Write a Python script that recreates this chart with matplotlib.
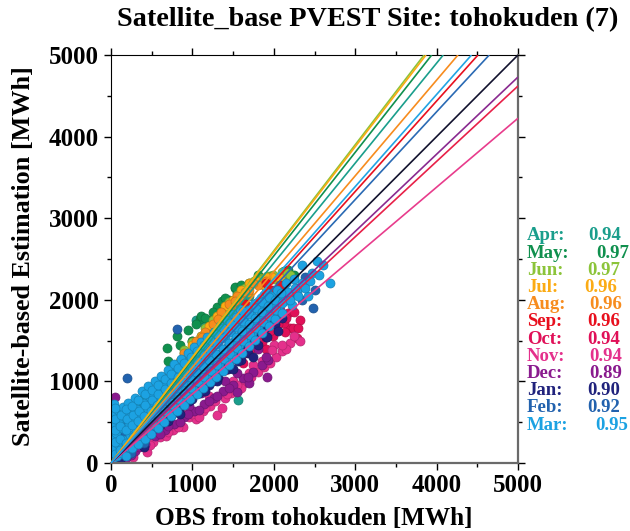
import matplotlib
matplotlib.use('Agg')
import matplotlib.pyplot as plt
from matplotlib.ticker import MultipleLocator
from matplotlib.colors import to_rgb

# ---------------- data ----------------
months = ['Apr', 'May', 'Jun', 'Jul', 'Aug', 'Sep', 'Oct', 'Nov', 'Dec', 'Jan', 'Feb', 'Mar']
corr = ['0.94', '0.97', '0.97', '0.96', '0.96', '0.96', '0.94', '0.94', '0.89', '0.90', '0.92', '0.95']
slopes = [1.225, 1.269, 1.300, 1.292, 1.173, 1.109, 0.924, 0.845, 0.946, 1.000, 1.076, 1.129]
colors = ['#1a9e8c', '#10904e', '#8cc43a', '#fbab14', '#f78c1e', '#e8101e', '#e01058',
          '#e4308c', '#8a1a8e', '#20227c', '#2262ae', '#1ca2e2']
line_colors = ['#1a9e8c', '#10904e', '#8cc43a', '#fbab14', '#f78c1e', '#e8101e', '#e82048',
               '#e83c8c', '#8a2a90', '#12122e', '#2a6ab4', '#22a4e4']

apr_x = [200, 300, 400, 600, 800, 1048, 1000, 1200, 1400, 1564, 1700, 1900, 2100, 900, 1300, 1600, 500, 700, 1100,
         1150, 1350, 750, 450]
apr_y = [450, 560, 650, 900, 1150, 1748, 1500, 1600, 1800, 774, 2050, 2150, 2250, 1300, 1850, 2000, 750, 1060, 1560,
         1700, 1900, 1150, 800]

may_x = [150, 350, 500, 684, 815, 950, 1093, 1110, 1306, 1360, 1523, 1544, 1519, 1700, 1800, 2000, 2130, 2250,
         600, 750, 900, 1000, 1200, 1450, 1650, 400, 1250, 1900, 700, 850, 1050, 1150, 1400, 1600, 1950, 2180]
may_y = [480, 700, 860, 1409, 1560, 1634, 1765, 1806, 1913, 1982, 2146, 2084, 2158, 2200, 2300, 2280, 2350, 2300,
         1000, 1200, 1350, 1500, 1750, 2000, 2150, 800, 1850, 2250, 1250, 1450, 1700, 1780, 2020, 2180, 2290, 2360]

jun_x = [400, 600, 800, 950, 1100, 1200, 1300, 1400, 1500, 1600, 1700, 1830, 1913, 1994, 2097, 2158, 1050, 700,
         1350, 1550, 500, 1760, 2050, 1150, 1250, 1450, 1650, 1850, 2000, 2200, 900, 1000]
jun_y = [620, 850, 1110, 1300, 1500, 1640, 1780, 1890, 1990, 2090, 2170, 2269, 2289, 2310, 2338, 2330, 1450, 1000,
         1820, 2060, 760, 2230, 2260, 1650, 1750, 1970, 2150, 2250, 2250, 2300, 1380, 1480]

jul_x = [300, 450, 560, 660, 780, 880, 980, 1080, 1180, 1280, 1380, 1480, 1580, 1680, 1780, 1880, 1980, 2080,
         1130, 930, 720, 1230, 1430, 1330, 1030, 1000, 1100, 1200, 1300, 1400, 1500, 1600, 850, 750, 1700, 1900]
jul_y = [500, 660, 790, 900, 1070, 1190, 1330, 1440, 1540, 1680, 1790, 1880, 2030, 2090, 2230, 2180, 2280, 2270,
         1500, 1290, 960, 1640, 1840, 1600, 1300, 1450, 1560, 1680, 1800, 1920, 2000, 2120, 1250, 1100, 2200, 2280]

aug_x = [200, 330, 480, 600, 700, 760, 860, 920, 1010, 1060, 1160, 1210, 1300, 1360, 1450, 1510, 1600, 1700,
         1800, 1900, 1260, 960, 650, 1410, 1560, 1100, 820, 1050, 1150, 1250, 1350, 1450, 1550, 1650, 1750, 900,
         800, 700, 1120, 1320, 1520]
aug_y = [350, 470, 640, 790, 900, 1040, 1110, 1220, 1290, 1400, 1460, 1580, 1640, 1760, 1830, 1920, 1980, 2120,
         2180, 2230, 1540, 1240, 880, 1690, 1880, 1380, 1000, 1500, 1600, 1700, 1850, 1950, 2050, 2100, 2200, 1350,
         1200, 1050, 1540, 1760, 1980]

sep_x = [300, 420, 550, 680, 807, 850, 980, 1080, 1180, 1290, 1380, 1480, 1580, 1680, 1780, 1880, 1980, 2080,
         900, 1150, 760, 1400, 1650, 1900]
sep_y = [350, 520, 620, 780, 1142, 1000, 1120, 1300, 1380, 1520, 1560, 1700, 1780, 1880, 1960, 2060, 2120, 2180,
         1180, 1260, 920, 1700, 1950, 2200]

oct_x = [220, 380, 560, 740, 920, 1080, 1240, 1400, 1560, 1720, 1860, 1990, 2076, 2076, 2220, 2322, 2199, 2281,
         2240, 2179, 2120, 1960, 1820, 1680, 1520, 1350, 1180, 1000, 820, 650, 460, 2020, 2140, 1900, 1620,
         300, 600, 900, 1150, 1300, 1450, 1650, 1800, 1950, 2050, 2150, 2300, 2250]
oct_y = [160, 280, 440, 590, 730, 880, 1010, 1140, 1280, 1400, 1480, 1552, 1818, 1880, 1859, 1757, 1654, 1531,
         1654, 1839, 1720, 1660, 1560, 1480, 1340, 1200, 1040, 880, 700, 560, 400, 1760, 1600, 1400, 1220,
         220, 500, 760, 960, 1100, 1200, 1350, 1500, 1620, 1700, 1780, 1650, 1850]

nov_x = [150, 274, 438, 330, 602, 520, 766, 680, 885, 960, 1050, 1130, 1220, 1298, 1360, 1400, 1480, 1560, 1640,
         1720, 1800, 1880, 1953, 2030, 2097, 2199, 2322, 2250, 2150, 900, 1200, 1500, 1750, 2000, 600, 400, 80,
         250, 480, 700, 820, 1000, 1150, 1280, 1420, 1600, 1700, 1850, 1980, 2100, 1080, 1550]
nov_y = [40, 77, 139, 190, 323, 260, 405, 330, 446, 560, 540, 640, 700, 590, 672, 800, 860, 900, 980,
         1060, 1120, 1180, 1225, 1300, 1367, 1474, 1490, 1560, 1400, 600, 820, 1000, 1200, 1450, 420, 260, 30,
         120, 220, 380, 440, 600, 680, 760, 850, 920, 1100, 1250, 1380, 1450, 560, 960]

dec_x = [53, 180, 300, 420, 540, 660, 780, 900, 1020, 1140, 1260, 1380, 1500, 1544, 1620, 1740, 1860, 1913, 1933,
         1700, 1400, 1100, 800, 500, 1250, 1800, 250, 960, 350, 600, 850, 1080, 1300, 1450, 1680, 1200, 950, 700,
         1550, 1900, 400, 150]
dec_y = [807, 60, 150, 230, 330, 400, 480, 560, 640, 720, 800, 880, 960, 876, 1040, 1120, 1200, 1060, 1265,
         980, 1000, 860, 620, 400, 1000, 1400, 100, 700, 200, 350, 500, 650, 820, 920, 1050, 760, 600, 450,
         1100, 1300, 300, 100]

jan_x = [60, 120, 180, 250, 310, 380, 440, 500, 560, 620, 690, 750, 810, 870, 930, 990, 1050, 1110, 1170, 1230,
         1290, 1350, 1410, 1470, 1530, 1590, 1650, 1710, 1770, 1830, 1890, 1950, 2010, 2100, 1300, 1000, 700, 1600,
         1900, 400, 20, 100, 50, 150, 200, 350, 480, 600, 720, 840, 960, 1080, 1200, 1320, 1440, 1560, 1680, 1800,
         1920, 2050, 1150, 850, 1500, 1750]
jan_y = [20, 60, 130, 170, 250, 300, 380, 420, 480, 540, 580, 660, 700, 780, 820, 900, 930, 1010, 1040, 1120,
         1150, 1230, 1250, 1340, 1360, 1440, 1460, 1540, 1560, 1630, 1650, 1720, 1700, 1780, 1000, 780, 520, 1260,
         1540, 200, 100, 300, 200, 400, 100, 260, 350, 460, 560, 650, 760, 860, 950, 1060, 1150, 1250, 1350, 1450,
         1550, 1620, 880, 600, 1150, 1300]

feb_x = [10, 30, 15, 40, 25, 60, 80, 100, 120, 193, 130, 170, 200, 260, 280, 340, 380, 440, 520, 600, 680, 760,
         840, 920, 1000, 1080, 1160, 1240, 1320, 1400, 1480, 1560, 1640, 1720, 1800, 1880, 1960, 2040, 2120, 2200,
         2300, 2482, 2506, 2380, 2350, 815, 250, 400]
feb_y = [120, 280, 420, 560, 680, 150, 330, 480, 620, 1040, 200, 380, 520, 300, 450, 380, 560, 480, 540, 640, 720,
         760, 860, 900, 980, 1060, 1100, 1200, 1260, 1340, 1420, 1480, 1580, 1620, 1720, 1760, 1860, 1900, 2000,
         2050, 2150, 1904, 2125, 2280, 2000, 1646, 120, 250]

mar_x = [10, 25, 15, 35, 20, 40, 70, 90, 65, 95, 80, 140, 160, 135, 170, 150, 210, 230, 220, 240, 205,
         290, 310, 280, 320, 300, 370, 390, 360, 400, 380, 450, 470, 440, 480, 460, 530, 550, 520, 560, 540,
         610, 630, 600, 640, 620, 690, 710, 680, 720, 700, 770, 790, 760, 800, 780, 850, 870, 840, 880, 860,
         930, 950, 920, 960, 940, 1010, 1030, 1000, 1040, 1020, 1090, 1110, 1080, 1120, 1100, 1170, 1190, 1160,
         1200, 1180, 1250, 1270, 1240, 1280, 1260, 1330, 1350, 1320, 1360, 1340, 1410, 1430, 1400, 1440, 1420,
         1490, 1510, 1480, 1520, 1500, 1570, 1590, 1560, 1600, 1580, 1650, 1670, 1640, 1680, 1730, 1750, 1720,
         1760, 1810, 1830, 1800, 1840, 1890, 1910, 1880, 1920, 1970, 1990, 1960, 2050, 2070, 2040, 2130, 2180,
         2150, 2220, 2281, 2343, 2343, 2445, 2466, 2527, 2608, 2690, 2424, 2250,
         45, 50, 55, 45, 50, 110, 115, 105, 120, 185, 190, 180, 195, 185, 260, 265, 255, 270, 255,
         335, 345, 330, 340, 335, 415, 425, 410, 420, 420, 495, 505, 490, 500, 500, 575, 585, 570, 580, 580,
         655, 665, 650, 660, 660, 735, 745, 730, 740, 740, 815, 825, 810, 820, 820, 895, 905, 890, 900, 900,
         975, 985, 970, 980, 980, 1055, 1065, 1050, 1060, 1060, 1135, 1145, 1130, 1140, 1140, 1215, 1225, 1210,
         1220, 1220, 1295, 1305, 1290, 1300, 1300, 1375, 1385, 1370, 1380, 1380, 1455, 1465, 1450, 1460, 1460,
         1535, 1545, 1530, 1540, 1540, 1615, 1625, 1610, 1620, 1620, 1695, 1705, 1690, 1700, 1775, 1785, 1770,
         1780, 1855, 1865, 1850, 1860, 1935, 1945, 1930, 1940, 2015, 2025, 2010, 2095, 2105, 2090, 2200, 2260,
         2300, 2380, 2560]
mar_y = [40, 180, 330, 470, 600, 720, 90, 230, 370, 520, 650, 120, 280, 430, 560, 690, 200, 340, 480, 610, 740,
         250, 390, 530, 660, 800, 330, 470, 610, 740, 880, 400, 540, 680, 810, 940, 470, 610, 750, 880, 1000,
         540, 680, 820, 950, 1070, 620, 760, 900, 1030, 1140, 700, 840, 980, 1110, 1210, 770, 910, 1050, 1180, 1280,
         840, 980, 1120, 1250, 1350, 910, 1050, 1190, 1320, 1420, 990, 1130, 1260, 1390, 1480, 1060, 1200, 1330,
         1460, 1540, 1140, 1280, 1410, 1530, 1610, 1210, 1350, 1480, 1600, 1680, 1290, 1420, 1550, 1670, 1750,
         1360, 1500, 1620, 1740, 1820, 1440, 1570, 1700, 1810, 1890, 1510, 1650, 1770, 1880, 1590, 1720, 1840,
         1950, 1660, 1800, 1910, 2020, 1740, 1870, 1980, 2080, 1820, 1950, 2050, 1900, 2020, 2120, 1980, 2100,
         2200, 1941, 2104, 2207, 2432, 2227, 2330, 2473, 2432, 2207, 2043, 2250,
         110, 260, 400, 540, 680, 160, 300, 450, 590, 90, 250, 400, 540, 660, 180, 320, 460, 590, 700,
         230, 370, 510, 640, 770, 300, 440, 580, 710, 840, 360, 500, 640, 770, 890, 430, 570, 710, 840, 960,
         500, 640, 780, 910, 1030, 570, 710, 850, 980, 1090, 640, 780, 920, 1050, 1160, 710, 850, 990, 1120, 1230,
         780, 920, 1060, 1190, 1300, 850, 990, 1120, 1250, 1370, 920, 1060, 1190, 1320, 1440, 990, 1130, 1260,
         1390, 1510, 1060, 1200, 1330, 1460, 1580, 1130, 1270, 1400, 1530, 1650, 1200, 1340, 1470, 1600, 1720,
         1280, 1410, 1540, 1670, 1790, 1350, 1490, 1620, 1740, 1860, 1430, 1570, 1700, 1820, 1510, 1650, 1780,
         1900, 1590, 1730, 1850, 1970, 1680, 1800, 1920, 2030, 1760, 1880, 2000, 1840, 1960, 2080, 2000, 2150,
         2050, 2150, 2300]

series_x = [apr_x, may_x, jun_x, jul_x, aug_x, sep_x, oct_x, nov_x, dec_x, jan_x, feb_x, mar_x]
series_y = [apr_y, may_y, jun_y, jul_y, aug_y, sep_y, oct_y, nov_y, dec_y, jan_y, feb_y, mar_y]

x_ticks = [0, 1000, 2000, 3000, 4000, 5000]
y_ticks = [0, 1000, 2000, 3000, 4000, 5000]
title = 'Satellite_base PVEST Site: tohokuden (7)'
xlabel = 'OBS from tohokuden [MWh]'
ylabel = 'Satellite-based Estimation [MWh]'

# ---------------- figure ----------------
FONT = 'Liberation Serif'
W, H = 630, 531
fig = plt.figure(figsize=(W / 100, H / 100), dpi=100)
ax = fig.add_axes([111 / W, 1 - 463 / H, 407 / W, 408 / H])

def darker(c, f=0.8):
    r, g, b = to_rgb(c)
    return (r * f, g * f, b * f)

for xs, ys, c in zip(series_x, series_y, colors):
    ax.scatter(xs, ys, s=42, color=c, edgecolors=[darker(c)], linewidths=0.5, zorder=2)

xmax = 5000
for k, c in zip(slopes, line_colors):
    xe = min(xmax, xmax / k)
    ax.plot([0, xe], [0, k * xe], color=c, lw=1.2, zorder=3, solid_capstyle='butt')

ax.set_xlim(0, 5000)
ax.set_ylim(0, 5000)
ax.set_xticks(x_ticks)
ax.set_yticks(y_ticks)
ax.xaxis.set_minor_locator(MultipleLocator(500))
ax.yaxis.set_minor_locator(MultipleLocator(500))
ax.tick_params(which='both', direction='out', top=True, right=True, labeltop=False, labelright=False,
               color='black', width=1.0)
ax.tick_params(which='major', length=5)
ax.tick_params(which='minor', length=3)
ax.tick_params(axis='x', pad=3)
ax.tick_params(axis='y', pad=4)
for lab in ax.get_xticklabels() + ax.get_yticklabels():
    lab.set_fontfamily(FONT)
    lab.set_fontweight('bold')
    lab.set_fontsize(18)
ax.spines['left'].set_color('black')
ax.spines['top'].set_color('black')
ax.spines['right'].set_color('#6a6a6a')
ax.spines['bottom'].set_color('#6a6a6a')
ax.spines['right'].set_linewidth(1.6)
ax.spines['bottom'].set_linewidth(1.6)

fig.text(117 / W, 1 - 20 / H, title, ha='left', va='center', fontsize=20.3, fontweight='bold', family=FONT)
fig.text(314 / W, 1 - 518 / H, xlabel, ha='center', va='center', fontsize=18.2, fontweight='bold', family=FONT)
fig.text(24 / W, 1 - 256 / H, ylabel, ha='center', va='center', rotation=90, fontsize=18.8,
         fontweight='bold', family=FONT)

# correlation legend
val_right = [621, 629, 620, 617, 622, 620, 620, 622, 622, 620, 620, 628]
for i, (m, r, c) in enumerate(zip(months, corr, colors)):
    yy = 1 - (236 + i * 17.2) / H
    fig.text(527 / W, yy, m + ':', ha='left', va='center', fontsize=13.5, fontweight='bold',
             family=FONT, color=c)
    fig.text(val_right[i] / W, yy, r, ha='right', va='center', fontsize=13.5, fontweight='bold',
             family=FONT, color=c)

fig.savefig('out.png', dpi=100)
